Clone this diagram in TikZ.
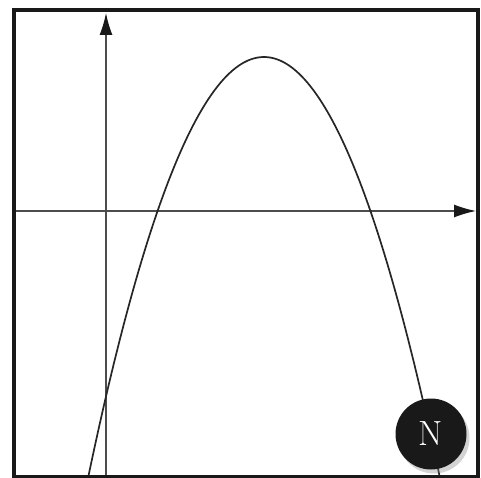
\documentclass[tikz,border=0pt]{standalone}
\usetikzlibrary{arrows.meta,shadows}

\tikzset{
  axis/.style={line width=1.3pt, black!70, -{Latex[length=22pt,width=13pt,color=black!90]}},
  graphline/.style={line width=1.7pt, black!85},
  frame/.style={line width=3.5pt, black!90},
  badge/.style={circle, fill=black!90, minimum size=71pt, inner sep=0pt,
    text=white, font=\fontsize{35}{35}\selectfont,
    drop shadow={opacity=0.35, shadow xshift=3pt, shadow yshift=-4pt}}
}

\begin{document}
\begin{tikzpicture}[x=1pt,y=-1pt]
\useasboundingbox (0,0) rectangle (481,478);

\coordinate (xstart) at (14,211);
\coordinate (xend) at (476,211);
\coordinate (ystart) at (106,476);
\coordinate (yend) at (106,13);

\draw[axis] (xstart) -- (xend);
\draw[axis] (ystart) -- (yend);

% parabola, cut off at the frame
\begin{scope}
  \clip (14,10) rectangle (478,476.5);
  \draw[graphline] plot[domain=84:444, samples=120] (\x, {57+0.0136*(\x-264)*(\x-264)});
\end{scope}

\draw[frame] (14,10) rectangle (478,476.5);

\node[badge] (mark) at (431,434) {N};
\end{tikzpicture}
\end{document}
